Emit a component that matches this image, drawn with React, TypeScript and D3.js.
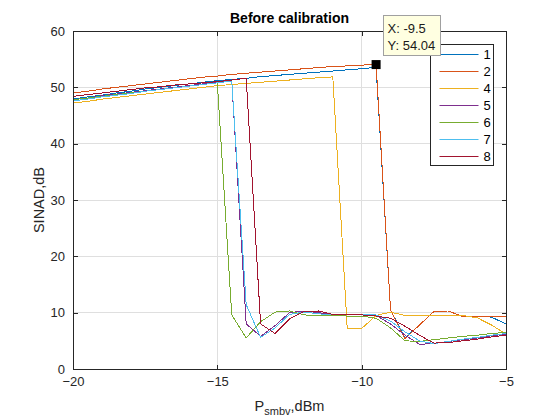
import React, { useRef, useEffect } from 'react';
import * as d3 from 'd3';

// input power, dBm (0.5 dBm steps)
const pIn = [
  -20, -19.5, -19, -18.5, -18, -17.5, -17, -16.5, -16, -15.5, -15, -14.5, -14, -13.5, -13, -12.5,
  -12, -11.5, -11, -10.5, -10, -9.5, -9, -8.5, -8, -7.5, -7, -6.5, -6, -5.5, -5
];

const sinad1 = [47.9, 48.3, 48.6, 49.0, 49.3, 49.7, 50.0, 50.3, 50.6, 50.9, 51.2, 51.4, 51.6, 51.9, 52.1, 52.3,
  52.5, 52.7, 52.9, 53.1, 53.3, 53.55, 10.5, 5.5, 7.8, 10.2, 10.3, 9.3, 9.4, 9.2, 8.0];
const sinad2 = [49.0, 49.3, 49.7, 50.0, 50.3, 50.6, 50.9, 51.2, 51.5, 51.8, 52.0, 52.3, 52.5, 52.7, 52.9, 53.1,
  53.3, 53.5, 53.7, 53.8, 53.95, 54.04, 10.5, 5.4, 7.8, 10.2, 10.3, 9.3, 9.4, 9.4, 9.4];
const sinad4 = [47.2, 47.5, 47.9, 48.2, 48.5, 48.8, 49.1, 49.4, 49.7, 50.0, 50.3, 50.5, 50.7, 50.9, 51.1, 51.3,
  51.5, 51.7, 51.85, 7.2, 7.2, 9.5, 10.1, 9.5, 9.5, 9.5, 9.5, 9.5, 9.1, 7.8, 6.2];
const sinad5 = [47.8, 48.1, 48.5, 48.8, 49.1, 49.4, 49.7, 50.0, 50.3, 50.6, 50.9, 51.2, 8.0, 5.8, 7.7, 10.0,
  10.3, 10.0, 9.7, 9.6, 9.6, 9.5, 8.0, 6.0, 4.4, 4.5, 4.9, 5.2, 5.5, 5.9, 6.2];
const sinad6 = [47.8, 48.1, 48.4, 48.7, 49.0, 49.3, 49.6, 49.9, 50.2, 50.5, 50.8, 9.6, 5.5, 8.4, 10.1, 10.3,
  9.6, 9.5, 9.5, 9.4, 9.4, 9.0, 7.3, 5.0, 4.9, 5.2, 5.5, 5.8, 6.0, 6.3, 6.5];
const sinad7 = [47.6, 47.9, 48.3, 48.6, 48.9, 49.3, 49.6, 49.9, 50.2, 50.5, 50.8, 51.1, 11.4, 5.6, 7.3, 9.7,
  10.1, 9.8, 9.6, 9.6, 9.6, 9.6, 8.5, 6.6, 5.0, 4.5, 4.9, 5.3, 5.6, 6.0, 6.3];
const sinad8 = [48.4, 48.7, 49.0, 49.3, 49.6, 49.9, 50.1, 50.4, 50.6, 50.8, 51.0, 51.3, 51.6, 8.0, 6.3, 8.9,
  10.2, 10.3, 9.7, 9.6, 9.6, 9.4, 9.0, 7.6, 6.0, 4.6, 4.7, 5.0, 5.3, 5.7, 6.0];

const seriesNames = ['1', '2', '4', '5', '6', '7', '8'];
const seriesValues = [sinad1, sinad2, sinad4, sinad5, sinad6, sinad7, sinad8];
const seriesColors = ['#0072BD', '#D95319', '#EDB120', '#7E2F8E', '#77AC30', '#4DBEEE', '#A2142F'];

const xTicks = [-20, -15, -10, -5];
const yTicks = [0, 10, 20, 30, 40, 50, 60];

// datatip
const tipX = -9.5;
const tipY = 54.04;

const FONT = '"Liberation Sans", Arial, Helvetica, sans-serif';

const SinadChart = () => {
  const svgRef = useRef<SVGSVGElement | null>(null);

  useEffect(() => {
    const width = 560;
    const height = 420;
    const margin = { top: 31, right: 54, bottom: 51, left: 73 };
    const w = width - margin.left - margin.right;
    const h = height - margin.top - margin.bottom;
    const axisColor = '#262626';

    const x = d3.scaleLinear().domain([-20, -5]).range([0, w]);
    const y = d3.scaleLinear().domain([0, 60]).range([h, 0]);

    const svg = d3.select(svgRef.current);
    svg.selectAll('*').remove();
    svg.attr('width', width).attr('height', height)
      .style('position', 'absolute').style('left', 0).style('top', 0)
      .style('background', '#fff');

    const g = svg.append('g').attr('transform', `translate(${margin.left},${margin.top})`);

    // grid
    g.append('g').selectAll('line').data(xTicks).join('line')
      .attr('x1', d => x(d)).attr('x2', d => x(d)).attr('y1', 0).attr('y2', h)
      .attr('stroke', '#dfdfdf').attr('stroke-width', 1).attr('shape-rendering', 'crispEdges');
    g.append('g').selectAll('line').data(yTicks).join('line')
      .attr('x1', 0).attr('x2', w).attr('y1', d => y(d)).attr('y2', d => y(d))
      .attr('stroke', '#dfdfdf').attr('stroke-width', 1).attr('shape-rendering', 'crispEdges');

    // lines
    const line = d3.line<number>()
      .x((_, i) => x(pIn[i]))
      .y(d => y(d));

    g.append('g').selectAll('path').data(seriesValues).join('path')
      .attr('fill', 'none')
      .attr('stroke', (_, i) => seriesColors[i])
      .attr('stroke-width', 1)
      .attr('shape-rendering', 'crispEdges')
      .attr('d', d => line(d));

    // axes box with inward ticks on all sides
    const tick = 4.5;
    const xAxisB = d3.axisBottom(x).tickValues(xTicks).tickSizeInner(-tick).tickSizeOuter(0).tickPadding(8);
    const xAxisT = d3.axisTop(x).tickValues(xTicks).tickSizeInner(-tick).tickSizeOuter(0).tickFormat(() => '');
    const yAxisL = d3.axisLeft(y).tickValues(yTicks).tickSizeInner(-tick).tickSizeOuter(0).tickPadding(8);
    const yAxisR = d3.axisRight(y).tickValues(yTicks).tickSizeInner(-tick).tickSizeOuter(0).tickFormat(() => '');

    const axes = [
      g.append('g').attr('transform', `translate(0,${h})`).call(xAxisB),
      g.append('g').call(xAxisT),
      g.append('g').call(yAxisL),
      g.append('g').attr('transform', `translate(${w},0)`).call(yAxisR),
    ];
    axes.forEach(a => {
      a.selectAll('path, line').attr('stroke', axisColor).attr('shape-rendering', 'crispEdges');
      a.selectAll('text').attr('fill', axisColor).style('font-family', FONT).style('font-size', '13px');
    });

    // title & labels
    svg.append('text')
      .attr('x', margin.left + w / 2).attr('y', 23)
      .attr('text-anchor', 'middle')
      .style('font-family', FONT).style('font-size', '14px').style('font-weight', 'bold')
      .attr('fill', '#000')
      .text('Before calibration');

    svg.append('text')
      .attr('transform', `translate(44,${margin.top + h / 2}) rotate(-90)`)
      .attr('text-anchor', 'middle')
      .style('font-family', FONT).style('font-size', '14.5px')
      .attr('fill', axisColor)
      .text('SINAD,dB');

    const xl = svg.append('text')
      .attr('x', margin.left + w / 2).attr('y', 411)
      .attr('text-anchor', 'middle')
      .style('font-family', FONT).style('font-size', '14.5px')
      .attr('fill', axisColor);
    xl.append('tspan').text('P');
    xl.append('tspan').attr('dy', 4).style('font-size', '11px').text('smbv');
    xl.append('tspan').attr('dy', -4).text(',dBm');

    // legend
    const lg = svg.append('g').attr('transform', 'translate(430.5,44.5)');
    lg.append('rect').attr('width', 63).attr('height', 121)
      .attr('fill', '#fff').attr('stroke', axisColor).attr('stroke-width', 1);
    const row = lg.selectAll('g.row').data(seriesNames).join('g')
      .attr('class', 'row')
      .attr('transform', (_, i) => `translate(0,${10 + i * 17})`);
    row.append('line')
      .attr('x1', 9).attr('x2', 48).attr('y1', 0).attr('y2', 0)
      .attr('stroke', (_, i) => seriesColors[i]).attr('stroke-width', 1);
    row.append('text')
      .attr('x', 53).attr('y', 0).attr('dy', '0.36em')
      .style('font-family', FONT).style('font-size', '13px')
      .attr('fill', '#000')
      .text(d => d);

    // datatip
    const mx = margin.left + x(tipX);
    const my = margin.top + y(tipY);
    svg.append('rect')
      .attr('x', mx - 4.5).attr('y', my - 4.5).attr('width', 9).attr('height', 9)
      .attr('fill', '#000');
    const tip = svg.append('g').attr('transform', 'translate(383.5,15.5)');
    tip.append('rect').attr('width', 57).attr('height', 40)
      .attr('fill', '#ffffe1').attr('stroke', '#a0a0a0').attr('stroke-width', 1);
    tip.append('text').attr('x', 4).attr('y', 17)
      .style('font-family', FONT).style('font-size', '13px').attr('fill', '#1a1a1a')
      .text(`X: ${tipX}`);
    tip.append('text').attr('x', 4).attr('y', 34)
      .style('font-family', FONT).style('font-size', '13px').attr('fill', '#1a1a1a')
      .text(`Y: ${tipY.toFixed(2)}`);
  }, []);

  return <svg ref={svgRef}></svg>;
};

export default function App() {
  return <SinadChart />;
}
